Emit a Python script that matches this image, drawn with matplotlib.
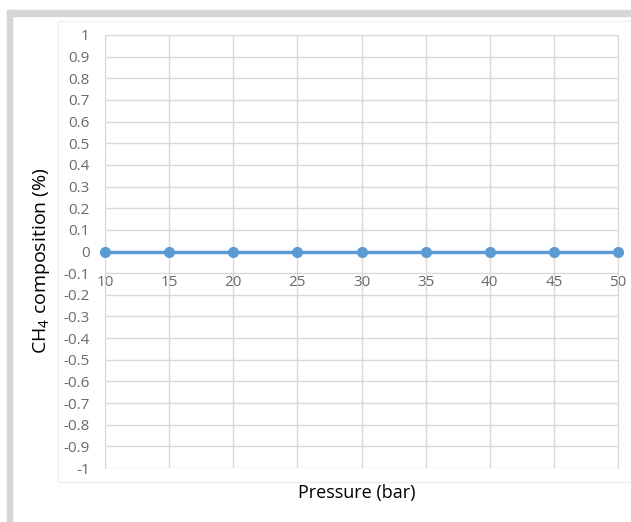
import matplotlib.pyplot as plt
from matplotlib.patches import Rectangle
from matplotlib.ticker import FormatStrFormatter

# data
pressure = [10, 15, 20, 25, 30, 35, 40, 45, 50]
ch4_composition = [0, 0, 0, 0, 0, 0, 0, 0, 0]
y_ticks = [-1, -0.9, -0.8, -0.7, -0.6, -0.5, -0.4, -0.3, -0.2, -0.1,
           0, 0.1, 0.2, 0.3, 0.4, 0.5, 0.6, 0.7, 0.8, 0.9, 1]

plt.rcParams['font.family'] = ['Open Sans', 'DejaVu Sans']
plt.rcParams['axes.unicode_minus'] = False
plt.rcParams['mathtext.fontset'] = 'custom'
plt.rcParams['mathtext.rm'] = 'Open Sans'
plt.rcParams['mathtext.it'] = 'Open Sans'

W, H = 631, 522
fig = plt.figure(figsize=(W / 100, H / 100), dpi=100)

# grey frame (top band and left band) plus faint chart-area border
fig.patches.append(Rectangle((7 / W, 1 - 16 / H), 1 - 7 / W, 6 / H,
                             transform=fig.transFigure, color='#d6d6d6', zorder=0))
fig.patches.append(Rectangle((7 / W, 0), 5 / W, 1 - 10 / H,
                             transform=fig.transFigure, color='#d6d6d6', zorder=0))
fig.patches.append(Rectangle((58 / W, 1 - 482 / H), 1, (482 - 21) / H,
                             transform=fig.transFigure, fill=False,
                             edgecolor='#efefef', linewidth=1, zorder=0))

ax = fig.add_axes([105 / W, 1 - 468 / H, 513 / W, 433 / H])
ax.plot(pressure, ch4_composition, color='#5B9BD5', linewidth=2.5,
        marker='o', markersize=7, zorder=3, clip_on=False)

ax.set_xlim(10, 50)
ax.set_ylim(-1, 1)
ax.set_xticks(pressure)
ax.set_yticks(y_ticks)
ax.yaxis.set_major_formatter(FormatStrFormatter('%g'))

ax.grid(True, color='#d9d9d9', linewidth=1)
ax.set_axisbelow(True)
for side in ['top', 'right', 'left', 'bottom']:
    ax.spines[side].set_color('#d9d9d9')
ax.spines['bottom'].set_position(('data', 0))
ax.spines['bottom'].set_visible(False)

ax.tick_params(axis='both', length=0, labelsize=11, labelcolor='#6a6a6a')
ax.tick_params(axis='y', pad=11)
ax.tick_params(axis='x', pad=17)

ax.set_ylabel('CH$_4$ composition (%)', fontsize=14, color='black')
ax.yaxis.set_label_coords(-0.103, 0.478)
fig.text(357 / W, 1 - 493 / H, 'Pressure (bar)', fontsize=13,
         ha='center', va='center', color='black')

fig.savefig('out.png', dpi=100)
